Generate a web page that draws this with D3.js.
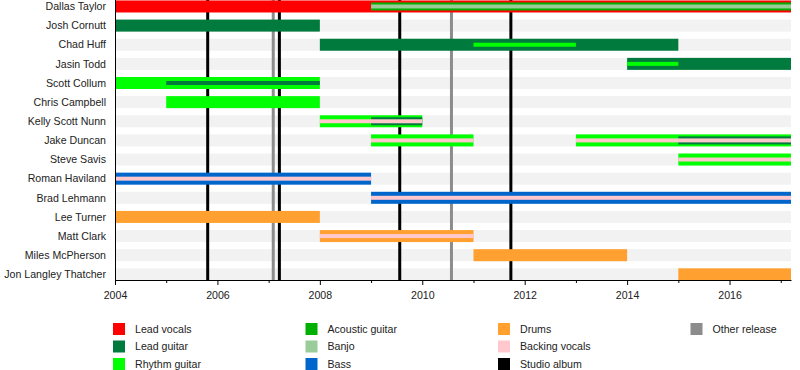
<!DOCTYPE html>
<html>
<head>
<meta charset="utf-8">
<script src="https://cdn.jsdelivr.net/npm/d3@7"></script>
<style>
  body { margin: 0; background: #fff; }
  text { font-family: "Liberation Sans", Arial, sans-serif; }
</style>
</head>
<body>
<svg width="800" height="370"></svg>
<script>
// band members, top to bottom
const members = [
  'Dallas Taylor', 'Josh Cornutt', 'Chad Huff', 'Jasin Todd', 'Scott Collum',
  'Chris Campbell', 'Kelly Scott Nunn', 'Jake Duncan', 'Steve Savis',
  'Roman Haviland', 'Brad Lehmann', 'Lee Turner', 'Matt Clark',
  'Miles McPherson', 'Jon Langley Thatcher'
]

const roles = [
  'Lead vocals', 'Lead guitar', 'Rhythm guitar',
  'Acoustic guitar', 'Banjo', 'Bass',
  'Drums', 'Backing vocals', 'Studio album',
  'Other release'
]

const startYear = 2004
const endYear = 2017.2
const tickYears = [2004, 2006, 2008, 2010, 2012, 2014, 2016]
const minorYears = [2005, 2007, 2009, 2011, 2013, 2015, 2017]

// [member, role, from, to]
const mainBars = [
  ['Dallas Taylor', 'Lead vocals', 2004, endYear],
  ['Josh Cornutt', 'Lead guitar', 2004, 2008],
  ['Chad Huff', 'Lead guitar', 2008, 2015],
  ['Jasin Todd', 'Lead guitar', 2014, endYear],
  ['Scott Collum', 'Rhythm guitar', 2004, 2008],
  ['Chris Campbell', 'Rhythm guitar', 2005, 2008],
  ['Kelly Scott Nunn', 'Rhythm guitar', 2008, 2010],
  ['Jake Duncan', 'Rhythm guitar', 2009, 2011],
  ['Jake Duncan', 'Rhythm guitar', 2013, endYear],
  ['Steve Savis', 'Rhythm guitar', 2015, endYear],
  ['Roman Haviland', 'Bass', 2004, 2009],
  ['Brad Lehmann', 'Bass', 2009, endYear],
  ['Lee Turner', 'Drums', 2004, 2008],
  ['Matt Clark', 'Drums', 2008, 2011],
  ['Miles McPherson', 'Drums', 2011, 2014],
  ['Jon Langley Thatcher', 'Drums', 2015, endYear]
]

const midBars = [
  ['Dallas Taylor', 'Acoustic guitar', 2009, endYear],
  ['Kelly Scott Nunn', 'Lead guitar', 2009, 2010],
  ['Jake Duncan', 'Lead guitar', 2015, endYear]
]

const innerBars = [
  ['Dallas Taylor', 'Banjo', 2009, endYear],
  ['Chad Huff', 'Rhythm guitar', 2011, 2013],
  ['Jasin Todd', 'Rhythm guitar', 2014, 2015],
  ['Scott Collum', 'Lead guitar', 2005, 2008],
  ['Kelly Scott Nunn', 'Backing vocals', 2008, 2010],
  ['Jake Duncan', 'Backing vocals', 2009, 2011],
  ['Jake Duncan', 'Backing vocals', 2013, endYear],
  ['Steve Savis', 'Backing vocals', 2015, endYear],
  ['Roman Haviland', 'Backing vocals', 2004, 2009],
  ['Brad Lehmann', 'Backing vocals', 2009, endYear],
  ['Matt Clark', 'Backing vocals', 2008, 2011]
]

const studioAlbums = [2005.81, 2007.21, 2009.56, 2011.73]
const otherReleases = [2007.09, 2010.57]

const colors = {
  'Lead vocals': '#ff0000',
  'Lead guitar': '#007a3d',
  'Rhythm guitar': '#00ff00',
  'Acoustic guitar': '#00b000',
  'Banjo': '#99cc99',
  'Bass': '#0066cc',
  'Drums': '#ffa030',
  'Backing vocals': '#ffc8cc',
  'Studio album': '#000000',
  'Other release': '#8c8c8c'
}

const svg = d3.select('svg')
const left = 115, right = 791, axisY = 280

const x = d3.scaleLinear().domain([startYear, endYear]).range([left, right])
const y = d3.scaleBand().domain(members).range([-3.1, 283.9])
const mid = d => y(d) + y.bandwidth() / 2

// background stripes
svg.append('g').selectAll('rect')
  .data(members)
  .enter().append('rect')
  .attr('x', left)
  .attr('width', right - left)
  .attr('y', d => mid(d) - 6)
  .attr('height', 12)
  .attr('fill', '#f2f2f2')

// release lines
svg.append('g').selectAll('line')
  .data(otherReleases)
  .enter().append('line')
  .attr('x1', d => x(d)).attr('x2', d => x(d))
  .attr('y1', 0).attr('y2', axisY)
  .attr('stroke', colors['Other release'])
  .attr('stroke-width', 3)

svg.append('g').selectAll('line')
  .data(studioAlbums)
  .enter().append('line')
  .attr('x1', d => x(d)).attr('x2', d => x(d))
  .attr('y1', 0).attr('y2', axisY)
  .attr('stroke', colors['Studio album'])
  .attr('stroke-width', 3)

// bars
function drawBars(data, h) {
  svg.append('g').selectAll('rect')
    .data(data)
    .enter().append('rect')
    .attr('x', d => x(d[2]))
    .attr('width', d => x(d[3]) - x(d[2]))
    .attr('y', d => mid(d[0]) - h / 2)
    .attr('height', h)
    .attr('fill', d => colors[d[1]])
}
drawBars(mainBars, 12)
drawBars(midBars, 8)
drawBars(innerBars, 4)

// member names
svg.append('g').selectAll('text')
  .data(members)
  .enter().append('text')
  .attr('x', 106)
  .attr('y', d => mid(d))
  .attr('dy', '0.35em')
  .attr('text-anchor', 'end')
  .attr('font-size', 10.6)
  .attr('fill', '#222')
  .text(d => d)

// axes
const xAxis = svg.append('g')
  .attr('transform', 'translate(0,' + axisY + ')')
  .call(d3.axisBottom(x).tickValues(tickYears).tickFormat(d3.format('d')).tickSize(5).tickSizeOuter(0))
xAxis.selectAll('text').attr('font-size', 10.6).attr('fill', '#222').attr('dy', '1.05em')
xAxis.selectAll('.domain').attr('stroke', '#000')

svg.append('g')
  .attr('transform', 'translate(0,' + axisY + ')')
  .call(d3.axisBottom(x).tickValues(minorYears.filter(v => v <= endYear)).tickFormat('').tickSize(3).tickSizeOuter(0))
  .select('.domain').remove()

svg.append('line')
  .attr('x1', left + 0.5).attr('x2', left + 0.5)
  .attr('y1', 0).attr('y2', axisY)
  .attr('stroke', '#000')

// legend
const legend = svg.append('g').selectAll('g')
  .data(roles)
  .enter().append('g')
  .attr('transform', (d, i) => {
    const col = [0, 0, 0, 1, 1, 1, 2, 2, 2, 3][i]
    const row = [0, 1, 2, 0, 1, 2, 0, 1, 2, 0][i]
    return 'translate(' + (113 + col * 192.5) + ',' + (323 + row * 17.5) + ')'
  })
legend.append('rect')
  .attr('width', 12).attr('height', 12)
  .attr('fill', d => colors[d])
legend.append('text')
  .attr('x', 22).attr('y', 6)
  .attr('dy', '0.35em')
  .attr('font-size', 10.6)
  .attr('fill', '#222')
  .text(d => d)
</script>
</body>
</html>
